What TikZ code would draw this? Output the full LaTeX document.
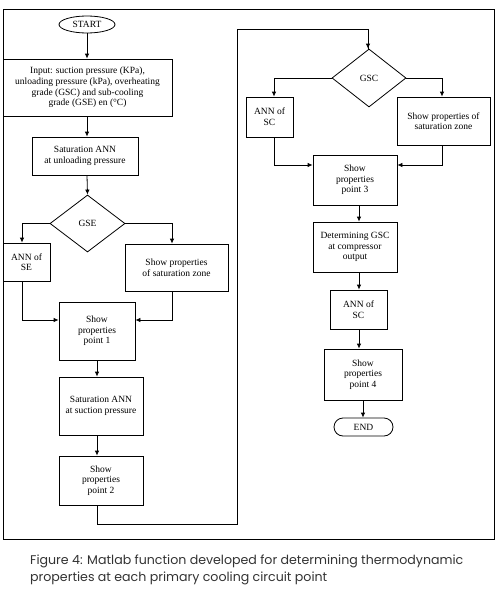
\documentclass[tikz,border=0pt]{standalone}
\usepackage{fontspec}
\setmainfont{Liberation Serif}
\newfontfamily\capfont{Poppins}
\usetikzlibrary{shapes.geometric,shapes.misc,arrows.meta}
\begin{document}
\begin{tikzpicture}[x=1pt,y=-1pt,
  every node/.style={font=\fontsize{9.5}{10.6}\selectfont},
  box/.style={draw,line width=0.8pt,inner sep=1pt,align=center},
  dec/.style={draw,line width=0.8pt,diamond,inner sep=0pt},
  term/.style={draw,line width=0.8pt,inner sep=0pt},
  ln/.style={line width=0.8pt},
  arr/.style={line width=0.8pt,-{Latex[length=5pt,width=4.5pt]}}]
\useasboundingbox (0,0) rectangle (498,597);
\fill[white] (0,0) rectangle (498,597);
% outer frame
\draw[line width=0.9pt] (3,9) rectangle (494,539);
% left column
\node[term,ellipse,minimum width=56pt,minimum height=17pt] (start) at (87,24.5) {START};
\node[box,minimum width=169pt,minimum height=57pt] (input) at (87.5,87.5)
  {Input: suction pressure (KPa),\\unloading pressure (kPa), overheating\\grade (GSC) and sub-cooling\\grade (GSE) en (°C)};
\node[box,minimum width=106pt,minimum height=38pt] (sat1) at (85,156) {Saturation ANN\\at unloading pressure};
\node[dec,minimum width=75pt,minimum height=57pt] (gse) at (87.5,223.5) {GSE};
\node[box,minimum width=47pt,minimum height=38pt] (annse) at (26.5,262) {ANN of\\SE};
\node[box,minimum width=103pt,minimum height=47pt] (sps1) at (176.5,267.5) {Show properties\\of saturation zone};
\node[box,minimum width=76pt,minimum height=58pt] (p1) at (97,331) {Show\\properties\\point 1};
\node[box,minimum width=84pt,minimum height=58pt] (sat2) at (101,406) {Saturation ANN\\at suction pressure};
\node[box,minimum width=84pt,minimum height=49pt] (p2) at (101,480.5) {Show\\properties\\point 2};
% right column
\node[dec,minimum width=74pt,minimum height=58pt] (gsc) at (369,78) {GSC};
\node[box,minimum width=47pt,minimum height=40pt] (annsc1) at (269.5,117) {ANN of\\SC};
\node[box,minimum width=93pt,minimum height=48pt] (sps2) at (443.5,121) {Show properties of\\saturation zone};
\node[box,minimum width=84pt,minimum height=50pt] (p3) at (355,180) {Show\\properties\\point 3};
\node[box,minimum width=84pt,minimum height=50pt] (det) at (355,247) {Determining GSC\\at compressor\\output};
\node[box,minimum width=57pt,minimum height=39pt] (annsc2) at (358.5,309.5) {ANN of\\SC};
\node[box,minimum width=78pt,minimum height=51pt] (p4) at (363,374.5) {Show\\properties\\point 4};
\node[term,rounded rectangle,minimum width=59pt,minimum height=18pt] (end) at (363.5,427) {END};
% helper coordinates
\coordinate (colL) at (87,0);
\coordinate (colM) at (97,0);
\coordinate (colR) at (359,0);
\coordinate (j1) at (0,320);
\coordinate (j3) at (0,165);
\coordinate (lb) at (237,524);
\coordinate (lt) at (237,29);
\coordinate (gsx) at (22,0);
\coordinate (spx) at (172,0);
\coordinate (asx) at (274,0);
\coordinate (s2x) at (442,0);
% left connectors
\draw[arr] (start.south) -- (start.south |- input.north);
\draw[arr] (colL |- input.south) -- (colL |- sat1.north);
\draw[arr] (colL |- sat1.south) -- (gse.north);
\draw[arr] (gse.west) -| (gsx |- annse.north);
\draw[arr] (gse.east) -| (spx |- sps1.north);
\draw[arr] (gsx |- annse.south) |- (p1.west |- j1);
\draw[arr] (spx |- sps1.south) |- (p1.east |- j1);
\draw[arr] (colM |- p1.south) -- (colM |- sat2.north);
\draw[arr] (colM |- sat2.south) -- (colM |- p2.north);
\draw[ln] (colM |- p2.south) |- (lb) -- (lt) -| ([xshift=-1pt]gsc.north);
\draw[arr] ([xshift=-1pt]gsc.north |- 0,40) -- ([xshift=-1pt]gsc.north);
% right connectors
\draw[arr] (gsc.west) -| (asx |- annsc1.north);
\draw[arr] (gsc.east) -| (s2x |- sps2.north);
\draw[arr] (asx |- annsc1.south) |- (p3.west |- j3);
\draw[arr] (s2x |- sps2.south) |- (p3.east |- j3);
\draw[arr] (colR |- p3.south) -- (colR |- det.north);
\draw[arr] (colR |- det.south) -- (colR |- annsc2.north);
\draw[arr] (colR |- annsc2.south) -- (colR |- p4.north);
\draw[arr] (p4.south) -- (p4.south |- end.north);
% caption
\node[anchor=north west,align=left,inner sep=0pt,text=black!80,
  font=\capfont\fontsize{12.6}{16.5}\selectfont] (cap) at (30,555)
  {Figure 4: Matlab function developed for determining thermodynamic\\properties at each primary cooling circuit point};
\end{tikzpicture}
\end{document}
